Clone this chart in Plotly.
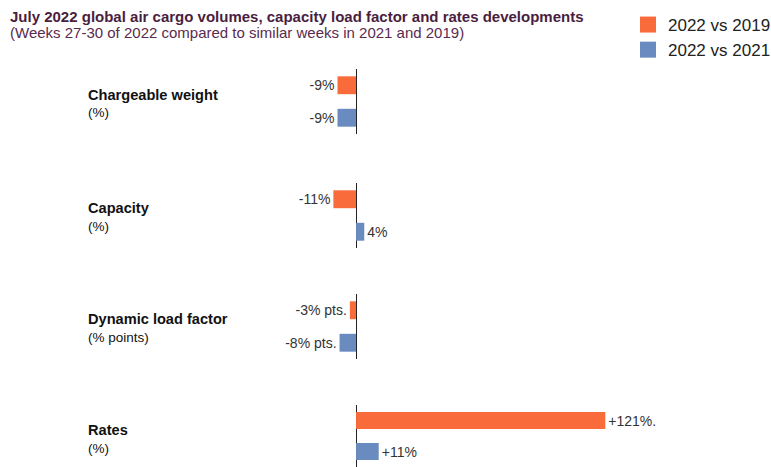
import plotly.graph_objects as go

categories = ["Chargeable weight", "Capacity", "Dynamic load factor", "Rates"]
units = ["(%)", "(%)", "(% points)", "(%)"]
series_names = ["2022 vs 2019", "2022 vs 2021"]
vs2019 = [-9, -11, -3, 121]
vs2021 = [-9, 4, -8, 11]
labels2019 = ["-9%", "-11%", "-3% pts.", "+121%."]
labels2021 = ["-9%", "4%", "-8% pts.", "+11%"]

W, H = 771, 467
ORANGE = "#FA6B3B"
BLUE = "#6A8BBF"
FONT = "Liberation Sans, Arial, sans-serif"
colors = [ORANGE, BLUE]


def px(x):
    return x / W


def py(y):
    return 1 - y / H


# pixel spans (top, bottom) of each group's panel
panels = [(69, 134), (183, 248), (294, 359), (405, 467)]
x_dom = [px(231), px(732)]
x_range = [-60.7, 182.5]

fig = go.Figure()
layout = dict(
    width=W, height=H,
    margin=dict(l=0, r=0, t=0, b=0, autoexpand=False),
    plot_bgcolor="white", paper_bgcolor="white",
    bargap=0.45,
    font=dict(family=FONT, size=14, color="#333333"),
)

for i, cat in enumerate(categories):
    sfx = "" if i == 0 else str(i + 1)
    xa, ya = "x" + sfx, "y" + sfx
    for name, vals, labs, col in [
        (series_names[0], vs2019, labels2019, ORANGE),
        (series_names[1], vs2021, labels2021, BLUE),
    ]:
        fig.add_trace(go.Bar(
            x=[vals[i]], y=[name], orientation="h",
            marker=dict(color=col, line=dict(width=0)),
            text=[labs[i]], textposition="outside", cliponaxis=False,
            textfont=dict(size=14, color="#333333", family=FONT),
            name=name, showlegend=False,
            xaxis=xa, yaxis=ya, hoverinfo="skip",
        ))
    top, bot = panels[i]
    layout["xaxis" + sfx] = dict(
        domain=x_dom, range=x_range, showgrid=False, showticklabels=False,
        ticks="", zeroline=True, zerolinecolor="#222222", zerolinewidth=1.3,
        anchor=ya, fixedrange=True,
    )
    layout["yaxis" + sfx] = dict(
        domain=[max(0, py(bot)), py(top)], range=[1.5, -0.5],
        showticklabels=False, showgrid=False, ticks="", zeroline=False,
        anchor=xa, type="category", categoryorder="array",
        categoryarray=series_names, fixedrange=True,
    )

# legend entries
for name, col in zip(series_names, colors):
    fig.add_trace(go.Scatter(
        x=[None], y=[None], mode="markers", name=name,
        marker=dict(symbol="square", size=18, color=col),
        xaxis="x", yaxis="y", hoverinfo="skip",
    ))

fig.update_layout(**layout)

label_pos = [(95, 112), (208, 226), (319, 337), (430, 448)]
ann = []
for cat, unit, (y1, y2) in zip(categories, units, label_pos):
    ann.append(dict(text="<b>" + cat + "</b>", x=px(86), y=py(y1), xref="paper",
                    yref="paper", xanchor="left", yanchor="middle", showarrow=False,
                    font=dict(size=14.6, color="#111111", family=FONT)))
    ann.append(dict(text=unit, x=px(86), y=py(y2), xref="paper",
                    yref="paper", xanchor="left", yanchor="middle", showarrow=False,
                    font=dict(size=13.5, color="#111111", family=FONT)))

ann.append(dict(text="<b>July 2022 global air cargo volumes, capacity load factor and rates developments</b>",
                x=px(8), y=py(16), xref="paper", yref="paper", xanchor="left",
                yanchor="middle", showarrow=False,
                font=dict(size=15, color="#4A1E3E", family=FONT)))
ann.append(dict(text="(Weeks 27-30 of 2022 compared to similar weeks in 2021 and 2019)",
                x=px(8), y=py(33), xref="paper", yref="paper", xanchor="left",
                yanchor="middle", showarrow=False,
                font=dict(size=15, color="#5B2A4E", family=FONT)))

fig.update_layout(
    annotations=ann,
    legend=dict(x=px(628), y=py(7), xanchor="left", yanchor="top",
                font=dict(size=17, color="#222222", family=FONT),
                traceorder="normal", itemsizing="trace", itemwidth=30,
                bgcolor="rgba(0,0,0,0)"),
)

fig.write_html("out.html", config={"displayModeBar": False},
               post_script="document.body.style.margin='0';document.body.style.overflow='hidden';")
